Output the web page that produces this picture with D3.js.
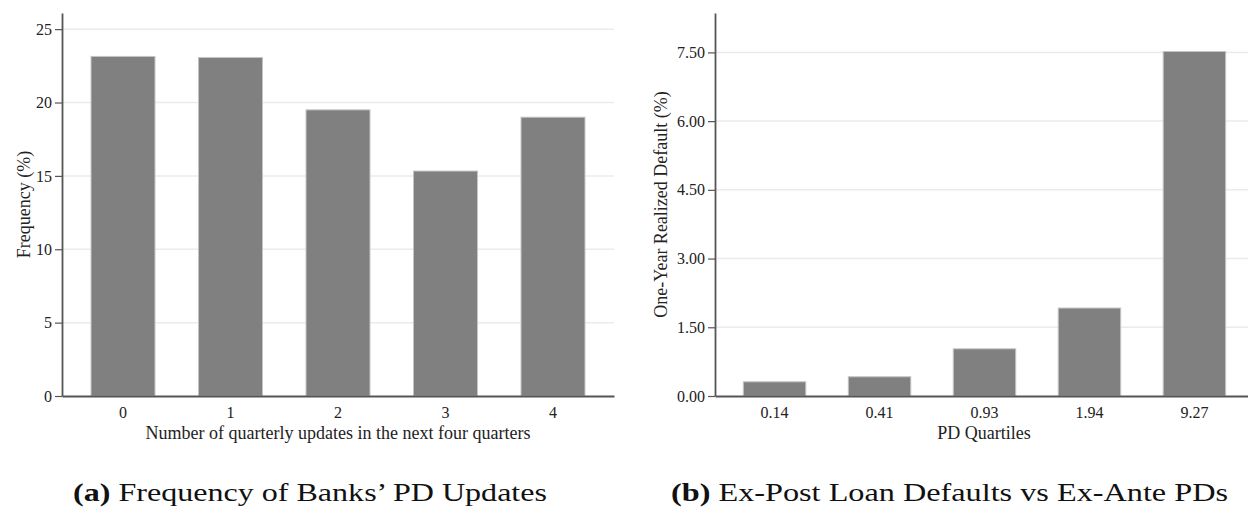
<!DOCTYPE html>
<html>
<head>
<meta charset="utf-8">
<script src="https://cdn.jsdelivr.net/npm/d3@7"></script>
<style>
  body { margin: 0; background: #fff; }
  .tick text { font-family: "Liberation Serif", serif; font-size: 16px; fill: #222; }
  .axistitle { font-family: "Liberation Serif", serif; font-size: 18px; fill: #222; }
  .caption { font-family: "Liberation Serif", serif; font-size: 25px; fill: #111; }
</style>
</head>
<body>
<div id="chart"></div>
<script>
// data
var updCats = ["0", "1", "2", "3", "4"];
var updFreq = [23.14, 23.07, 19.5, 15.33, 19.0];
var freqTicks = [0, 5, 10, 15, 20, 25];

var pdCats = ["0.14", "0.41", "0.93", "1.94", "9.27"];
var pdDefault = [0.31, 0.42, 1.03, 1.92, 7.52];
var defTicks = [0, 1.5, 3, 4.5, 6, 7.5];

var svgWidth = 1248;
var svgHeight = 507;

var svg = d3.select("#chart")
    .append("svg")
    .attr("width", svgWidth)
    .attr("height", svgHeight);

function drawPanel(opts) {
    var x = d3.scaleBand()
        .domain(opts.cats)
        .range([opts.left, opts.right])
        .paddingInner(0.405)
        .paddingOuter(0.27);
    var y = d3.scaleLinear()
        .domain([0, opts.ymax])
        .range([396, 13]);

    var g = svg.append("g");

    // gridlines (not at zero)
    g.selectAll("line.grid")
        .data(opts.ticks.filter(t => t > 0))
        .enter()
        .append("line")
        .attr("class", "grid")
        .attr("x1", opts.left)
        .attr("x2", opts.right)
        .attr("y1", d => y(d))
        .attr("y2", d => y(d))
        .attr("stroke", "#ebebeb")
        .attr("stroke-width", 1.5);

    // bars
    g.selectAll("rect.bar")
        .data(opts.vals)
        .enter()
        .append("rect")
        .attr("class", "bar")
        .attr("x", (d, i) => x(opts.cats[i]))
        .attr("width", x.bandwidth())
        .attr("y", d => y(d))
        .attr("height", d => y(0) - y(d))
        .attr("fill", "#808080")
        .attr("stroke", "#c4c4c4")
        .attr("stroke-width", 1);

    var leftAxis = d3.axisLeft(y)
        .tickValues(opts.ticks)
        .tickFormat(opts.fmt)
        .tickSize(7)
        .tickSizeOuter(0)
        .tickPadding(3);
    var yg = g.append("g")
        .attr("transform", `translate(${opts.left}, 0)`)
        .call(leftAxis);
    yg.select(".domain").attr("stroke", "#555").attr("stroke-width", 1.8);
    yg.selectAll(".tick line").attr("stroke", "#555").attr("stroke-width", 1.2);

    var bottomAxis = d3.axisBottom(x)
        .tickSize(0)
        .tickSizeOuter(0)
        .tickPadding(11);
    var xg = g.append("g")
        .attr("transform", `translate(0, ${y(0)})`)
        .call(bottomAxis);
    xg.select(".domain").attr("stroke", "#555").attr("stroke-width", 1.8);

    // axis titles
    g.append("text")
        .attr("class", "axistitle")
        .attr("text-anchor", "middle")
        .attr("x", opts.xTitleX)
        .attr("y", 439)
        .text(opts.xTitle);

    g.append("text")
        .attr("class", "axistitle")
        .attr("text-anchor", "middle")
        .attr("transform", `translate(${opts.yTitleX}, ${(y.range()[0] + y.range()[1]) / 2}) rotate(-90)`)
        .text(opts.yTitle);

    // caption under the panel
    var cap = svg.append("text")
        .attr("class", "caption")
        .attr("x", opts.capX)
        .attr("y", 501)
        .attr("textLength", opts.capLen)
        .attr("lengthAdjust", "spacingAndGlyphs");
    cap.append("tspan").attr("font-weight", "bold").text(opts.capTag);
    cap.append("tspan").text(" " + opts.caption);
}

drawPanel({
    cats: updCats, vals: updFreq, ticks: freqTicks, ymax: 26.1,
    fmt: d3.format("d"),
    left: 62, right: 614,
    xTitle: "Number of quarterly updates in the next four quarters", xTitleX: 338,
    yTitle: "Frequency (%)", yTitleX: 30,
    capTag: "(a)", caption: "Frequency of Banks\u2019 PD Updates", capX: 73, capLen: 474
});

drawPanel({
    cats: pdCats, vals: pdDefault, ticks: defTicks, ymax: 8.36,
    fmt: d3.format(".2f"),
    left: 715, right: 1254,
    xTitle: "PD Quartiles", xTitleX: 984,
    yTitle: "One-Year Realized Default (%)", yTitleX: 667,
    capTag: "(b)", caption: "Ex-Post Loan Defaults vs Ex-Ante PDs", capX: 671, capLen: 557
});
</script>
</body>
</html>
